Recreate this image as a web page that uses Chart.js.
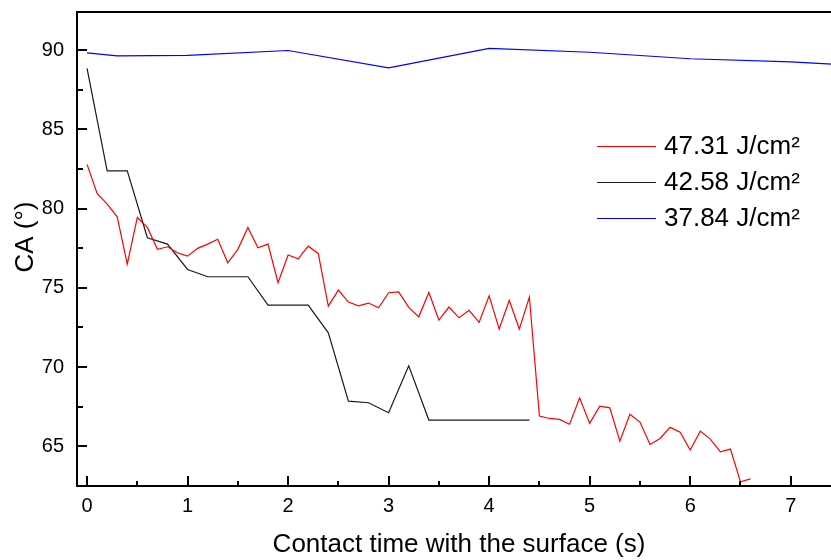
<!DOCTYPE html>
<html><head><meta charset="utf-8">
<script src="https://cdn.jsdelivr.net/npm/chart.js@4.4.1/dist/chart.umd.min.js"></script>
<style>
html,body{margin:0;padding:0;overflow:hidden;background:#fff;width:831px;height:560px}
#wrap{width:841px;height:560px;position:relative}
canvas{display:block}
</style>
</head><body><div id="wrap"><canvas id="c" width="841" height="560"></canvas></div>
<script>
const seriesLabels = ['47.31 J/cm²', '42.58 J/cm²', '37.84 J/cm²'];
const seriesColors = ['#ff0000', '#1a1a1a', '#0000ff'];
const xTitle = 'Contact time with the surface (s)';
const yTitle = 'CA (°)';

const redT = [0,0.1,0.2,0.3,0.4,0.5,0.6,0.7,0.8,0.9,1.0,1.1,1.2,1.3,1.4,1.5,1.6,1.7,1.8,1.9,2.0,2.1,2.2,2.3,2.4,2.5,2.6,2.7,2.8,2.9,3.0,3.1,3.2,3.3,3.4,3.5,3.6,3.7,3.8,3.9,4.0,4.1,4.2,4.3,4.4,4.5,4.6,4.7,4.8,4.9,5.0,5.1,5.2,5.3,5.4,5.5,5.6,5.7,5.8,5.9,6.0,6.1,6.2,6.3,6.4,6.5,6.6];
const redCA = [82.79,80.95,80.28,79.48,76.50,79.44,78.81,77.43,77.59,77.21,77.00,77.49,77.76,78.06,76.58,77.43,78.81,77.53,77.76,75.32,77.07,76.83,77.63,77.17,73.85,74.86,74.10,73.87,74.04,73.74,74.69,74.75,73.77,73.17,74.71,72.97,73.79,73.11,73.58,72.82,74.50,72.40,74.21,72.40,74.42,66.91,66.76,66.70,66.40,68.06,66.45,67.54,67.43,65.33,67.03,66.53,65.12,65.50,66.20,65.90,64.77,65.96,65.46,64.66,64.83,62.76,62.95];

const blackT = [0,0.2,0.4,0.6,0.8,1.0,1.2,1.4,1.6,1.8,2.0,2.2,2.4,2.6,2.8,3.0,3.2,3.4,3.6,3.8,4.0,4.2,4.4];
const blackCA = [88.85,82.38,82.38,78.16,77.76,76.16,75.70,75.70,75.70,73.91,73.91,73.91,72.16,67.85,67.75,67.12,70.08,66.66,66.66,66.66,66.66,66.66,66.66];

const blueT = [0,0.3,1,2,3,4,5,6,7,7.5];
const blueCA = [89.82,89.63,89.66,89.97,88.88,90.11,89.86,89.45,89.26,89.08];

const xTicks = [0,1,2,3,4,5,6,7];
const xMinorTicks = [0.5,1.5,2.5,3.5,4.5,5.5,6.5,7.5];
const yTicks = [65,70,75,80,85,90];
const yMinorTicks = [67.5,72.5,77.5,82.5,87.5];

const toXY = (t, v) => t.map((tt, i) => ({x: tt, y: v[i]}));
const seriesData = [toXY(redT, redCA), toXY(blackT, blackCA), toXY(blueT, blueCA)];

const FONT = "'Liberation Sans', Arial, sans-serif";

const frameTicks = {
  id: 'frameTicks',
  afterDatasetsDraw(chart) {
    const {ctx, chartArea: a, scales: {x, y}} = chart;
    ctx.save();
    ctx.strokeStyle = '#000';
    ctx.lineWidth = 2;
    const seg = (x1, y1, x2, y2) => { ctx.beginPath(); ctx.moveTo(x1, y1); ctx.lineTo(x2, y2); ctx.stroke(); };
    seg(a.left - 1, a.top, a.right, a.top);
    yTicks.forEach(v => { const p = Math.round(y.getPixelForValue(v)); seg(a.left, p, a.left + 10, p); });
    yMinorTicks.forEach(v => { const p = Math.round(y.getPixelForValue(v)); seg(a.left, p, a.left + 6, p); });
    xTicks.forEach(v => { const p = Math.round(x.getPixelForValue(v)); seg(p, a.bottom, p, a.bottom - 10); });
    xMinorTicks.forEach(v => { const p = Math.round(x.getPixelForValue(v)); seg(p, a.bottom, p, a.bottom - 5); });

    // y axis title
    ctx.save();
    ctx.fillStyle = '#000';
    ctx.font = '26px ' + FONT;
    ctx.textAlign = 'center';
    ctx.textBaseline = 'middle';
    ctx.translate(y.left + 26, a.top + 225);
    ctx.rotate(-Math.PI / 2);
    ctx.fillText(yTitle, 0, 0);
    ctx.restore();

    // legend
    ctx.font = '26px ' + FONT;
    ctx.textBaseline = 'middle';
    ctx.textAlign = 'left';
    chart.data.datasets.forEach((ds, i) => {
      const ry = a.top + 134 + i * 36;
      ctx.strokeStyle = ds.borderColor;
      ctx.lineWidth = 1.2;
      seg(a.left + 520, ry + 0.5, a.left + 579, ry + 0.5);
      ctx.fillStyle = '#000';
      ctx.fillText(ds.label, a.left + 587, ry + 1);
    });
    ctx.restore();
  }
};

new Chart(document.getElementById('c'), {
  type: 'line',
  data: {
    datasets: seriesLabels.map((lab, i) => ({
      label: lab,
      data: seriesData[i],
      borderColor: seriesColors[i],
      backgroundColor: seriesColors[i],
      borderWidth: 1.2,
      pointRadius: 0,
      tension: 0,
      fill: false
    }))
  },
  options: {
    responsive: false,
    animation: false,
    events: [],
    layout: {padding: {top: 12, right: 0, left: 0, bottom: 0}},
    plugins: {legend: {display: false}, tooltip: {enabled: false}},
    scales: {
      x: {
        type: 'linear', min: -0.1, max: 7.5,
        afterFit(s) { s.height = 74; s.paddingLeft = 0; s.paddingRight = 0; },
        afterBuildTicks(s) { s.ticks = xTicks.map(v => ({value: v})); },
        grid: {display: false, drawTicks: false},
        border: {display: true, color: '#000', width: 2},
        ticks: {padding: 8, color: '#000', font: {family: FONT, size: 20}, maxRotation: 0, autoSkip: false},
        title: {display: true, text: xTitle, color: '#000', font: {family: FONT, size: 26}, padding: {top: 0, bottom: 0}}
      },
      y: {
        type: 'linear', min: 62.5, max: 92.4,
        afterFit(s) { s.width = 77; s.paddingTop = 0; s.paddingBottom = 0; },
        afterBuildTicks(s) { s.ticks = yTicks.map(v => ({value: v})); },
        grid: {display: false, drawTicks: false},
        border: {display: true, color: '#000', width: 2},
        ticks: {padding: 13, color: '#000', font: {family: FONT, size: 20}, autoSkip: false},
        title: {display: false}
      }
    }
  },
  plugins: [frameTicks]
});
</script>
</body></html>
